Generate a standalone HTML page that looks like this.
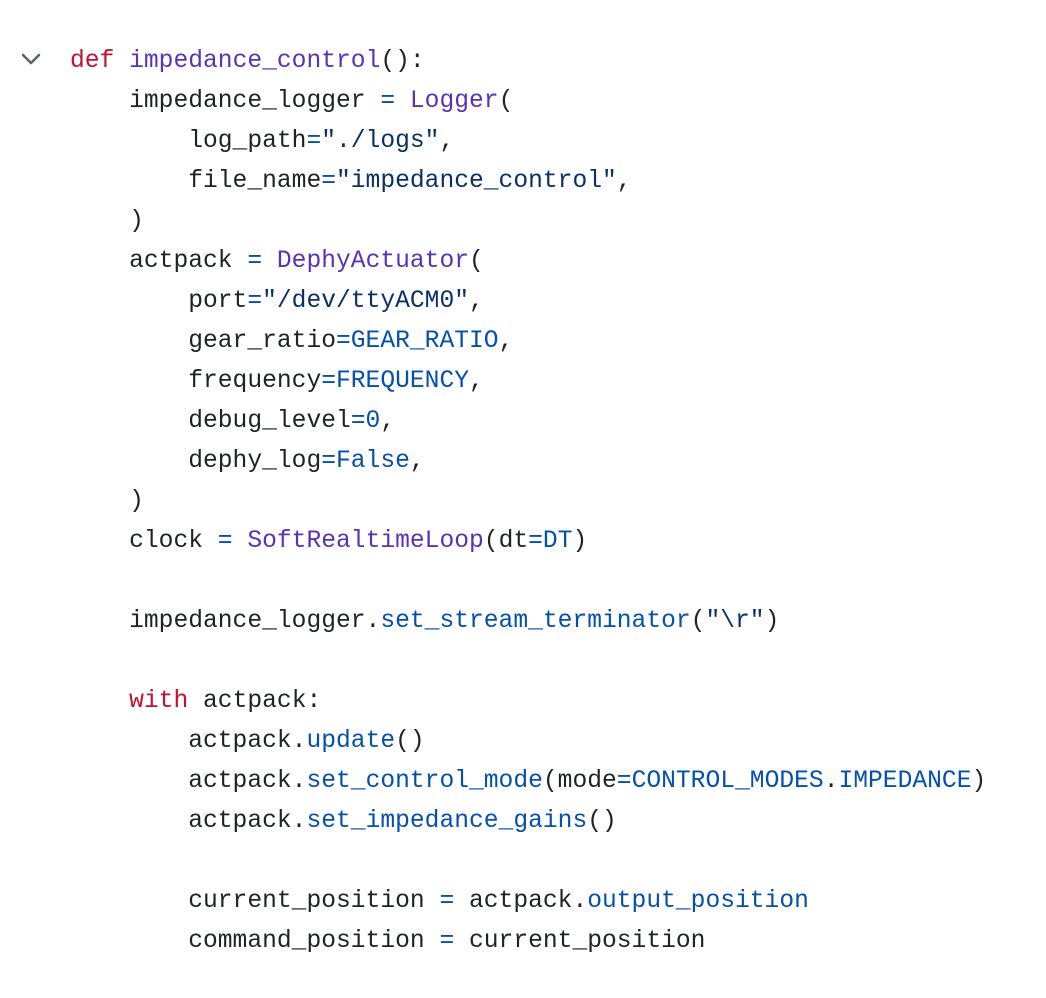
<!DOCTYPE html>
<html><head><meta charset="utf-8"><style>
html,body{margin:0;padding:0;background:#fff;width:1046px;height:998px;overflow:hidden}
pre{position:absolute;left:70px;top:41px;margin:0;font-family:"Liberation Mono",monospace;font-size:24.63px;line-height:40px;color:#1f2328}
.k{color:#c8102e}.f{color:#5a32b8}.c{color:#0550ae}.s{color:#0a3069}
svg{position:absolute;left:20px;top:50px}
</style></head><body>
<svg width="24" height="20"><polyline points="3,5 11,13 19,5" fill="none" stroke="#59636e" stroke-width="2.5" stroke-linecap="round" stroke-linejoin="round"/></svg>
<pre><span class="k">def</span> <span class="f">impedance_control</span>():
    impedance_logger <span class="c">=</span> <span class="f">Logger</span>(
        log_path<span class="c">=</span><span class="s">"./logs"</span>,
        file_name<span class="c">=</span><span class="s">"impedance_control"</span>,
    )
    actpack <span class="c">=</span> <span class="f">DephyActuator</span>(
        port<span class="c">=</span><span class="s">"/dev/ttyACM0"</span>,
        gear_ratio<span class="c">=GEAR_RATIO</span>,
        frequency<span class="c">=FREQUENCY</span>,
        debug_level<span class="c">=0</span>,
        dephy_log<span class="c">=False</span>,
    )
    clock <span class="c">=</span> <span class="f">SoftRealtimeLoop</span>(dt<span class="c">=DT</span>)

    impedance_logger.<span class="c">set_stream_terminator</span>(<span class="s">"\r"</span>)

    <span class="k">with</span> actpack:
        actpack.<span class="c">update</span>()
        actpack.<span class="c">set_control_mode</span>(mode<span class="c">=CONTROL_MODES</span>.<span class="c">IMPEDANCE</span>)
        actpack.<span class="c">set_impedance_gains</span>()

        current_position <span class="c">=</span> actpack.<span class="c">output_position</span>
        command_position <span class="c">=</span> current_position</pre>
</body></html>
